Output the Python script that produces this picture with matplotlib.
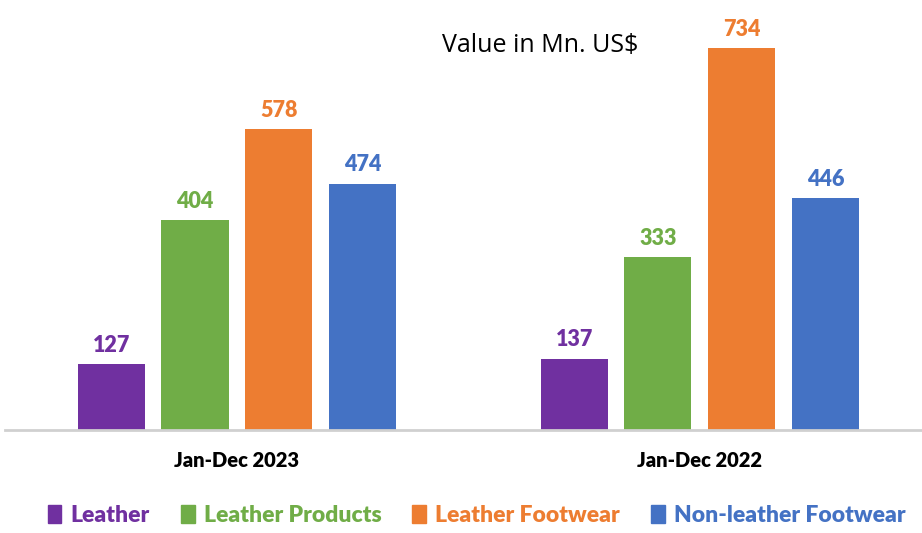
import numpy as np
import matplotlib.pyplot as plt
from matplotlib.patches import Patch

periods = ['Jan-Dec 2023', 'Jan-Dec 2022']
categories = ['Leather', 'Leather Products', 'Leather Footwear', 'Non-leather Footwear']
leather = [127, 137]
leather_products = [404, 333]
leather_footwear = [578, 734]
non_leather_footwear = [474, 446]

series = [leather, leather_products, leather_footwear, non_leather_footwear]
colors = ['#7030A0', '#70AD47', '#ED7D31', '#4472C4']

fig = plt.figure(figsize=(9.22, 5.33), dpi=100)
ax = fig.add_axes([5 / 922, 103 / 533, 917 / 922, 430 / 533])

x = np.arange(len(periods))
width = 0.145
step = 0.181

for i, (vals, c) in enumerate(zip(series, colors)):
    pos = x + (i - 1.5) * step
    bars = ax.bar(pos, vals, width=width, color=c)
    for b, v in zip(bars, vals):
        ax.annotate(str(v), (b.get_x() + b.get_width() / 2, v),
                    xytext=(0, 6), textcoords='offset points',
                    ha='center', va='bottom', color=c,
                    fontsize=15.5, fontweight='heavy', family='Lato')

ax.set_xlim(-0.501, 1.48)
ax.set_ylim(0, 827)
ax.set_xticks(x)
ax.set_xticklabels(periods, fontsize=14.5, fontweight='heavy', family='Lato')
ax.tick_params(axis='x', length=0, pad=15)
ax.set_yticks([])
for s in ['top', 'right', 'left']:
    ax.spines[s].set_visible(False)
ax.spines['bottom'].set_color('#D0D0D0')
ax.spines['bottom'].set_linewidth(2)

fig.text(0.586, 0.915, 'Value in Mn. US$', ha='center', va='center',
         fontsize=18, family='Open Sans')

handles = [Patch(color=c, label=l) for c, l in zip(colors, categories)]
leg = fig.legend(handles=handles, loc='center', bbox_to_anchor=(0.517, 0.033),
                 ncol=4, frameon=False, handlelength=0.6, handleheight=0.8,
                 handletextpad=0.4, columnspacing=1.35,
                 prop={'size': 16.5, 'family': 'Lato', 'weight': 'heavy'})
for t, c in zip(leg.get_texts(), colors):
    t.set_color(c)

fig.savefig('out.png', dpi=100)
